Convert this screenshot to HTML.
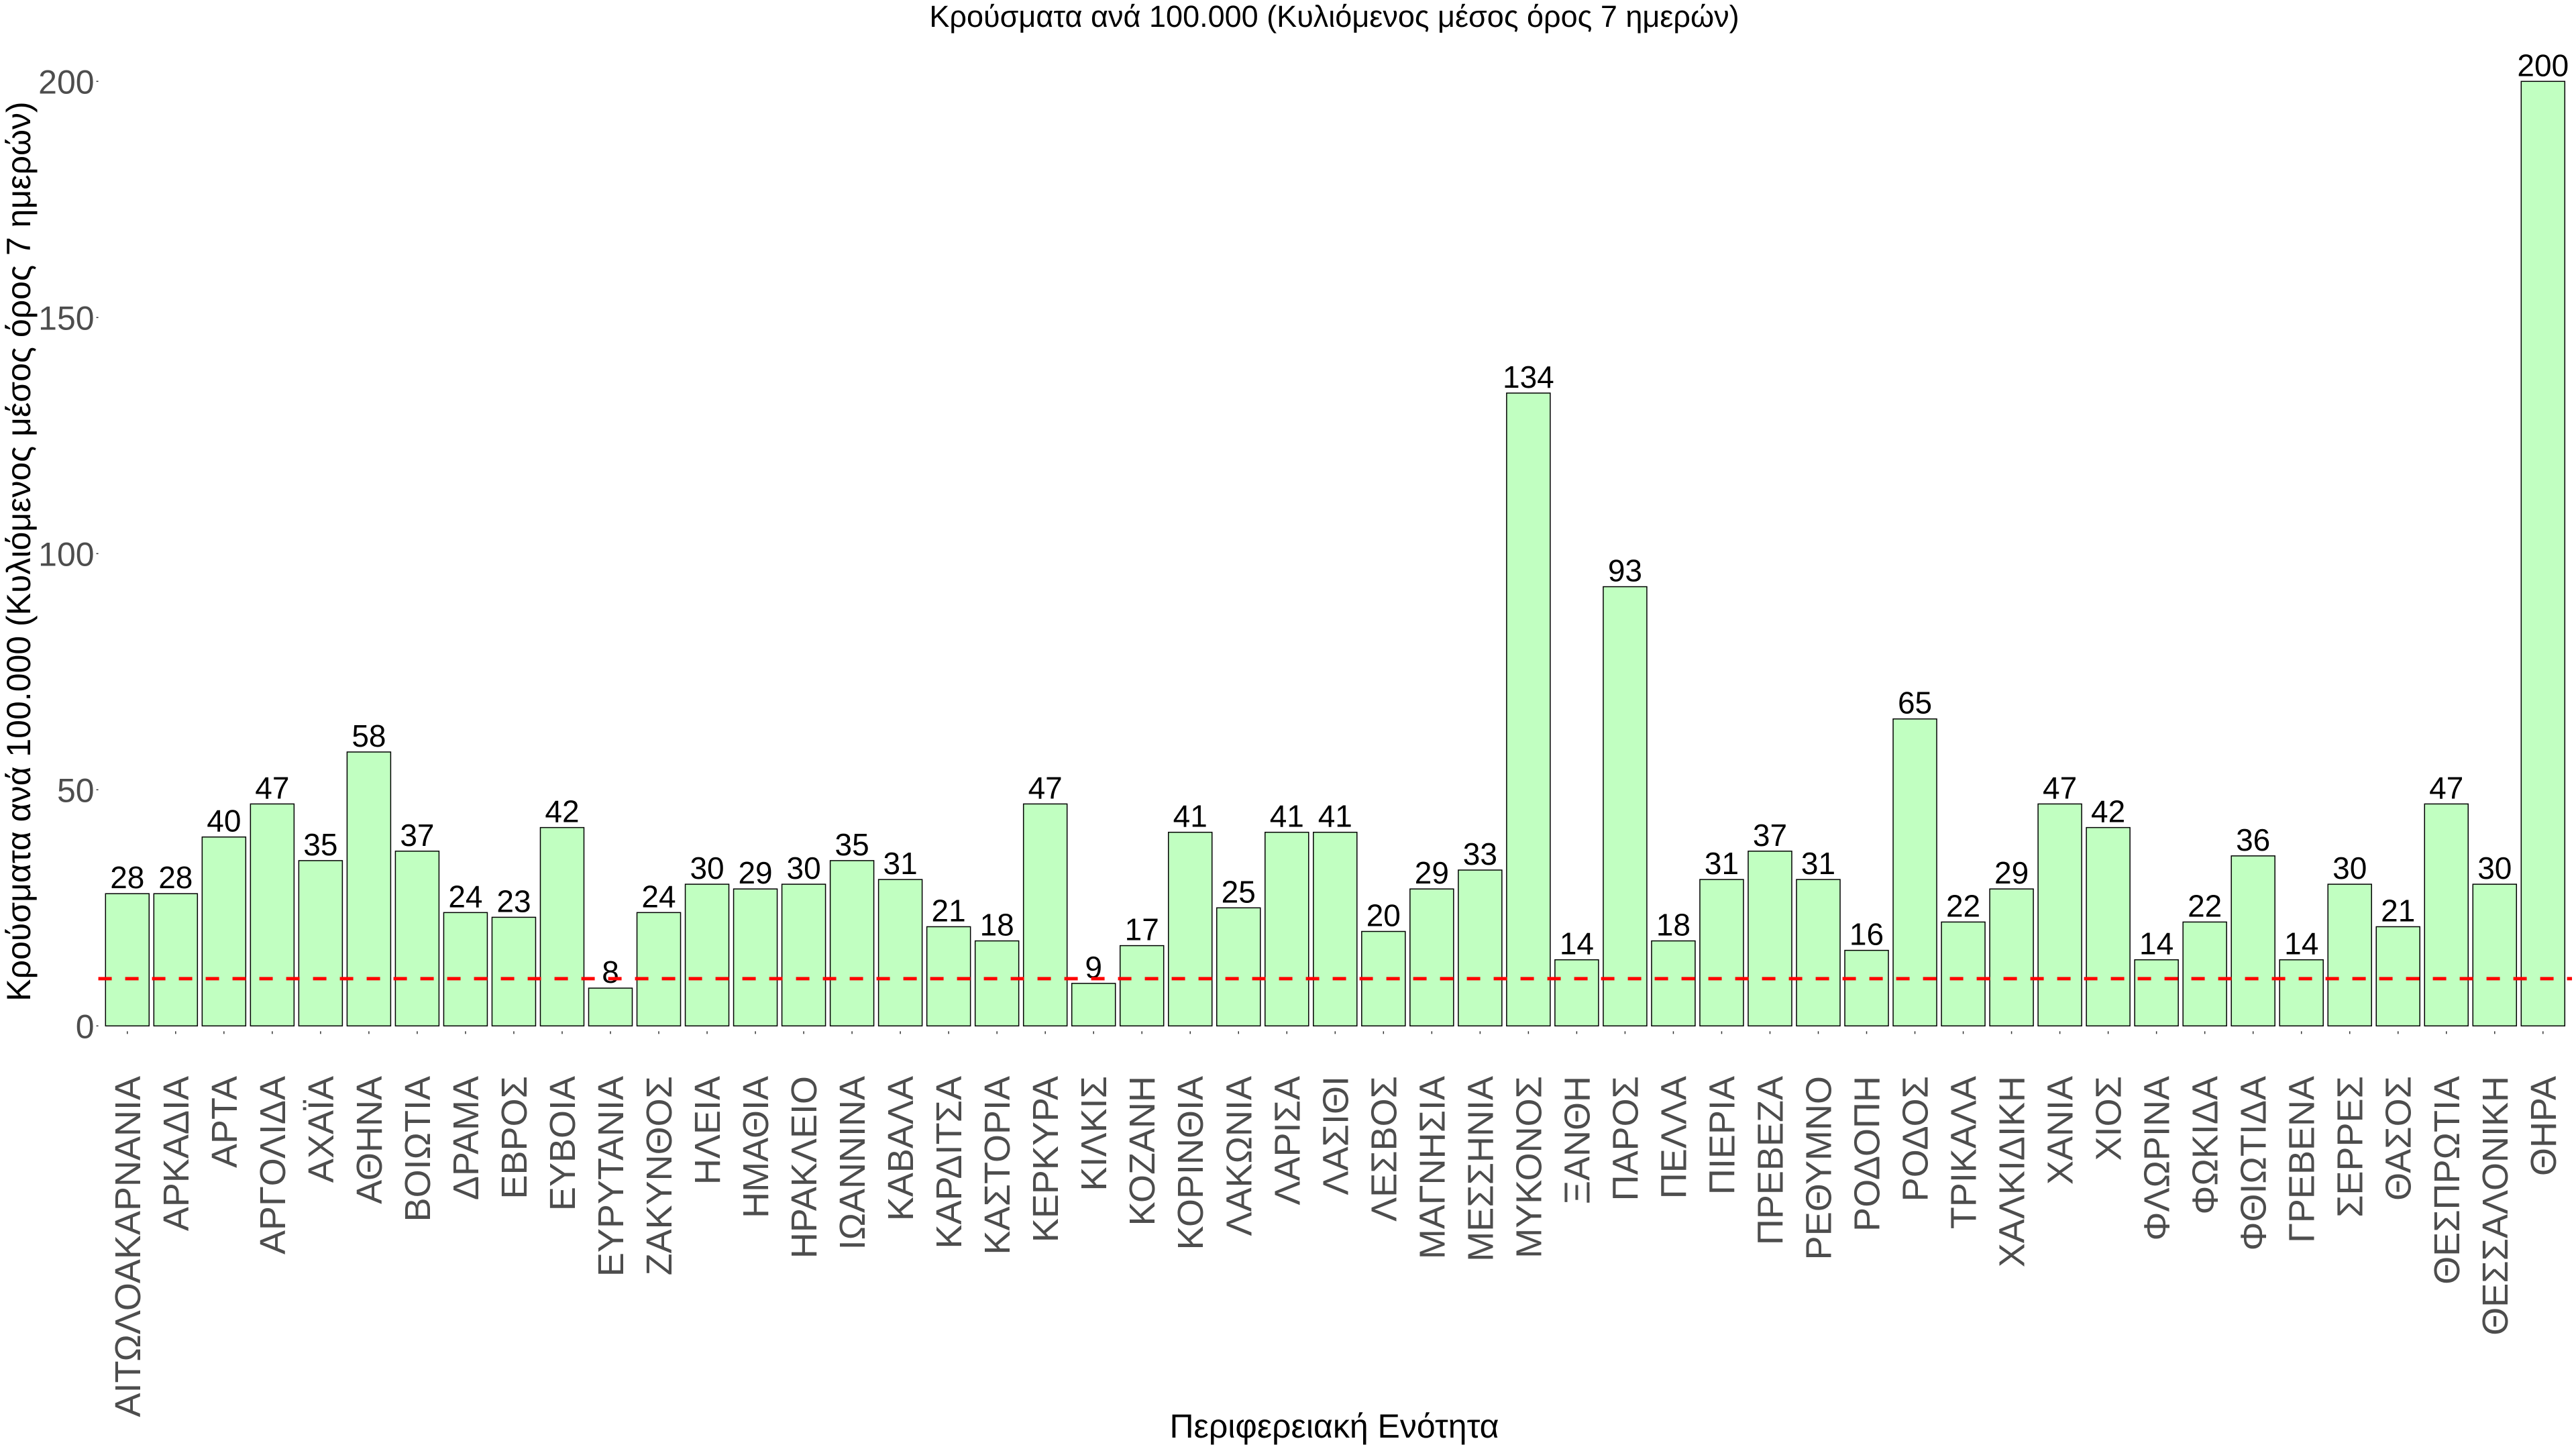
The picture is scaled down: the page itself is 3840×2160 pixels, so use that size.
<!DOCTYPE html>
<html><head><meta charset="utf-8"><style>
html,body{margin:0;padding:0;background:#fff;}
svg{display:block;font-family:"Liberation Sans","DejaVu Sans",sans-serif;}
</style></head><body>
<svg id="chart" width="3840" height="2160" viewBox="0 0 3840 2160" xmlns="http://www.w3.org/2000/svg">
<rect width="3840" height="2160" fill="#fff"/>
<text x="1989" y="40" font-size="45" text-anchor="middle" fill="#000">Κρούσματα ανά 100.000 (Κυλιόμενος μέσος όρος 7 ημερών)</text>
<text transform="translate(45,822) rotate(-90)" font-size="50" text-anchor="middle" fill="#000">Κρούσματα ανά 100.000 (Κυλιόμενος μέσος όρος 7 ημερών)</text>
<text x="1989" y="2143" font-size="50" text-anchor="middle" fill="#000">Περιφερειακή Ενότητα</text>
<g id="yticks"></g>
<g id="bars"></g>
<g id="xticks"></g>
</svg>
<script>
const categories = ["ΑΙΤΩΛΟΑΚΑΡΝΑΝΙΑ","ΑΡΚΑΔΙΑ","ΑΡΤΑ","ΑΡΓΟΛΙΔΑ","ΑΧΑΪΑ","ΑΘΗΝΑ","ΒΟΙΩΤΙΑ","ΔΡΑΜΑ","ΕΒΡΟΣ","ΕΥΒΟΙΑ","ΕΥΡΥΤΑΝΙΑ","ΖΑΚΥΝΘΟΣ","ΗΛΕΙΑ","ΗΜΑΘΙΑ","ΗΡΑΚΛΕΙΟ","ΙΩΑΝΝΙΝΑ","ΚΑΒΑΛΑ","ΚΑΡΔΙΤΣΑ","ΚΑΣΤΟΡΙΑ","ΚΕΡΚΥΡΑ","ΚΙΛΚΙΣ","ΚΟΖΑΝΗ","ΚΟΡΙΝΘΙΑ","ΛΑΚΩΝΙΑ","ΛΑΡΙΣΑ","ΛΑΣΙΘΙ","ΛΕΣΒΟΣ","ΜΑΓΝΗΣΙΑ","ΜΕΣΣΗΝΙΑ","ΜΥΚΟΝΟΣ","ΞΑΝΘΗ","ΠΑΡΟΣ","ΠΕΛΛΑ","ΠΙΕΡΙΑ","ΠΡΕΒΕΖΑ","ΡΕΘΥΜΝΟ","ΡΟΔΟΠΗ","ΡΟΔΟΣ","ΤΡΙΚΑΛΑ","ΧΑΛΚΙΔΙΚΗ","ΧΑΝΙΑ","ΧΙΟΣ","ΦΛΩΡΙΝΑ","ΦΩΚΙΔΑ","ΦΘΙΩΤΙΔΑ","ΓΡΕΒΕΝΑ","ΣΕΡΡΕΣ","ΘΑΣΟΣ","ΘΕΣΠΡΩΤΙΑ","ΘΕΣΣΑΛΟΝΙΚΗ","ΘΗΡΑ"];
const values = [28,28,40,47,35,58,37,24,23,42,8,24,30,29,30,35,31,21,18,47,9,17,41,25,41,41,20,29,33,134,14,93,18,31,37,31,16,65,22,29,47,42,14,22,36,14,30,21,47,30,200];
const yTicks = [0,50,100,150,200];
const threshold = 10;

const NS = "http://www.w3.org/2000/svg";
const y0 = 1529.3, pxPerUnit = 7.04;
const firstCenter = 189.8, step = 72.02, barW = 65;
function yScale(v){ return y0 - v * pxPerUnit; }
function xScale(i){ return firstCenter + i * step; }
function mk(tag, attrs, parent){ const e=document.createElementNS(NS,tag); for(const k in attrs) e.setAttribute(k,attrs[k]); parent.appendChild(e); return e; }

const plotLeft = xScale(0) - 0.6*step, plotRight = xScale(categories.length-1) + 0.6*step;
const yg = document.getElementById('yticks');
yTicks.forEach(t => {
  const y = yScale(t);
  const tk = mk('line',{x1:plotLeft-3,x2:plotLeft,y1:y,y2:y,stroke:'#333','stroke-width':1.5},yg);
  
  
  const lb = mk('text',{x:plotLeft-6,y:y+18,'font-size':50,'text-anchor':'end',fill:'#4d4d4d'},yg);
  lb.textContent = t;
  
  
});

const bg = document.getElementById('bars');
const xg = document.getElementById('xticks');
values.forEach((v,i) => {
  const cx = xScale(i);
  const r = mk('rect',{x:cx-barW/2,y:yScale(v),width:barW,height:y0-yScale(v),fill:'#c1ffc1',stroke:'#000','stroke-width':1.5},bg);
  
  
  const t = mk('text',{x:cx,y:yScale(v)-8,'font-size':46,'text-anchor':'middle',fill:'#000'},bg);
  t.textContent = v;
  
  
  const tk = mk('line',{x1:cx,x2:cx,y1:y0+8,y2:y0+12,stroke:'#333','stroke-width':1.5},xg);
  
  
  const lb = mk('text',{transform:`translate(${cx+19},1604) rotate(-90)`,'font-size':54,'text-anchor':'end',fill:'#4d4d4d'},xg);
  lb.textContent = categories[i];
  
  
});
const th = mk('line',{x1:plotLeft,x2:plotRight,y1:yScale(threshold),y2:yScale(threshold),stroke:'#ff0000','stroke-width':5,'stroke-dasharray':'20 20'},bg);


</script>
</body></html>
